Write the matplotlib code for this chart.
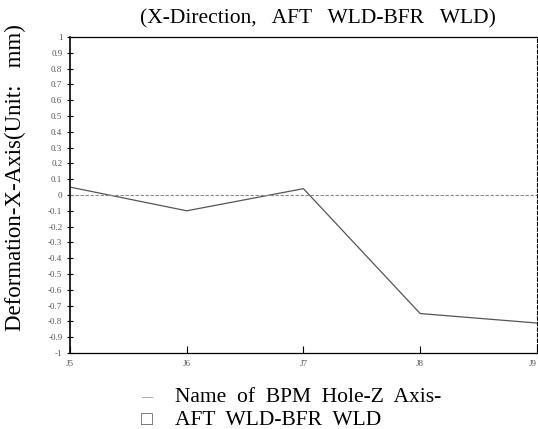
import numpy as np
import matplotlib.pyplot as plt

# данные
holes = ["J5", "J6", "J7", "J8", "J9"]
deform_x = [0.05, -0.10, 0.04, -0.75, -0.81]
y_ticks = [1, 0.9, 0.8, 0.7, 0.6, 0.5, 0.4, 0.3, 0.2, 0.1, 0,
           -0.1, -0.2, -0.3, -0.4, -0.5, -0.6, -0.7, -0.8, -0.9, -1]
y_tick_labels = ["1", "0.9", "0.8", "0.7", "0.6", "0.5", "0.4", "0.3", "0.2", "0.1", "0",
                 "-0.1", "-0.2", "-0.3", "-0.4", "-0.5", "-0.6", "-0.7", "-0.8", "-0.9", "-1"]

plt.rcParams['font.family'] = ['Liberation Serif', 'DejaVu Serif']

fig = plt.figure(figsize=(5.38, 4.29), dpi=100)
ax = fig.add_axes([0.130, 0.177, 0.868, 0.737])

x = np.arange(len(holes))
ax.plot(x, deform_x, color='#555555', lw=0.9)
ax.axhline(0, color='#888888', lw=0.8, ls=(0, (3, 1.5)))

ax.set_xlim(0, len(holes) - 1)
ax.set_ylim(-1, 1)
ax.set_xticks(x)
ax.set_xticklabels(holes, fontsize=6.5, color='#555555')
ax.get_xticklabels()[-1].set_ha('right')
ax.set_yticks(y_ticks)
ax.set_yticklabels(y_tick_labels, fontsize=6.5, color='#555555')
ax.tick_params(axis='y', direction='inout', length=5, width=0.8, pad=3)
ax.tick_params(axis='x', direction='in', length=5, width=0.8, pad=5)

for side in ['top', 'bottom']:
    ax.spines[side].set_linestyle((0, (4, 1)))
    ax.spines[side].set_linewidth(0.9)
ax.spines['left'].set_linewidth(1.2)
ax.spines['right'].set_linestyle((0, (3, 2)))
ax.spines['right'].set_linewidth(0.8)

fig.text(0.591, 0.957, "(X-Direction,   AFT   WLD-BFR   WLD)", ha='center', va='center', fontsize=15.5)
fig.text(0.028, 0.585, "Deformation-X-Axis(Unit:   mm)", rotation=90, ha='center', va='center', fontsize=16.5)
fig.text(0.273, 0.074, "—", ha='center', va='center', fontsize=8, color='#666666')
fig.text(0.325, 0.074, "Name  of  BPM  Hole-Z  Axis-", ha='left', va='center', fontsize=15.5)
fig.text(0.273, 0.02, "□", ha='center', va='center', fontsize=14, color='#555555')
fig.text(0.325, 0.02, "AFT  WLD-BFR  WLD", ha='left', va='center', fontsize=15.5)

plt.savefig('out.png', dpi=100)
plt.close()
